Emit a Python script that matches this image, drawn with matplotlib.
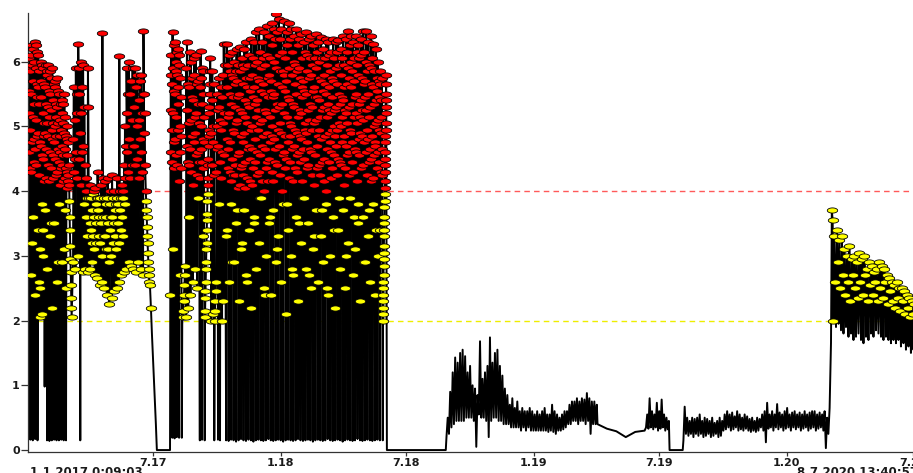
import numpy as np
import matplotlib
matplotlib.use("Agg")
import matplotlib.pyplot as plt
import matplotlib.dates as mdates
from datetime import datetime

# Readings, one list per stretch of the record.
# Each stretch runs from a start day to an end day (days after 1.1.2017),
# the readings in it are spaced evenly in time.

jan17 = [0.15, 3.2, 5.9, 6.05, 5.2, 4.6, 5.55, 4.35, 5.85, 4.95,
         0.16, 2.7, 6.1, 5.5, 4.3, 3.2, 5.95, 4.75, 6.25, 5.15,
         0.15, 3.6, 6.2, 5.7, 4.8, 6.0, 4.45, 5.35, 6.3, 4.65,
         0.17, 2.4, 6.25, 5.1, 5.9, 4.4, 5.65, 4.85, 6.15, 5.45,
         0.15, 3.4, 5.6, 6.1, 4.9, 2.6, 5.85, 4.25, 5.35, 4.75,
         2.05, 2.5, 3.1, 5.7, 6.0, 4.7, 5.45, 4.55, 5.95, 3.8,
         2.1, 3.0, 5.2, 5.9, 4.5, 3.4, 5.65, 4.15, 5.05, 4.85,
         0.98, 3.7, 5.6, 4.9, 5.95, 4.2, 5.35, 4.65, 5.85, 5.05,
         0.15, 2.8, 5.8, 5.3, 4.4, 5.95, 4.85, 5.55, 4.15, 5.15,
         0.14, 3.3, 5.5, 5.85, 4.6, 3.5, 5.25, 4.35, 5.75, 4.95,
         0.15, 2.2, 5.9, 4.8, 5.4, 4.2, 5.05, 4.55, 5.65, 4.75,
         0.16, 3.5, 5.7, 5.0, 4.5, 5.6, 4.25, 5.35, 4.85, 5.15,
         0.15, 2.6, 5.3, 5.75, 4.3, 2.9, 5.05, 4.65, 5.55, 4.45,
         0.15, 3.8, 5.5, 4.6, 5.1, 4.1, 4.85, 5.35, 4.35, 4.95,
         0.16, 2.9, 5.2, 4.4, 5.4, 4.7, 4.15, 5.05, 4.55, 5.35,
         0.15, 3.1, 4.9, 5.5, 4.2, 3.7, 4.65, 5.15, 4.35, 4.85,
         0.15, 2.5, 5.0, 4.3, 4.8, 4.05, 4.55, 4.25, 4.75, 4.15]
feb17_drop = [4.4, 4.1, 3.85, 3.6, 3.4, 3.15, 2.95, 2.75, 2.55, 2.35, 2.2, 2.05]
spring17 = [2.9, 4.8, 5.6, 4.3, 5.1, 4.5, 2.8, 5.9, 4.6, 5.2, 4.2, 5.5,
            3.0, 6.27, 5.5, 4.5, 5.9, 4.9, 0.15, 6.0, 5.2, 4.1, 5.6, 4.6,
            2.75, 5.95, 4.7, 3.8, 5.3, 4.4, 2.8, 4.2, 3.6, 4.0, 3.3, 3.9,
            2.75, 5.9, 5.3, 3.9, 4.1, 3.5, 2.8, 4.1, 3.4, 3.9, 3.2, 3.7,
            2.9, 3.95, 3.3, 4.0, 3.6, 3.1, 2.7, 4.05, 3.5, 3.8, 3.2, 3.9,
            2.65, 4.3, 3.7, 3.9, 3.3, 3.6, 2.55, 3.9, 3.2, 4.1, 3.5, 3.0,
            2.6, 6.44, 4.2, 3.6, 3.9, 3.3, 2.5, 4.15, 3.3, 3.8, 3.1, 3.6,
            2.4, 3.9, 4.2, 3.1, 3.5, 2.9, 2.25, 3.8, 3.4, 4.0, 3.0, 3.6,
            2.35, 4.25, 3.6, 3.9, 3.2, 3.5, 2.45, 4.0, 3.3, 3.7, 3.1, 3.8,
            2.5, 3.9, 4.2, 3.5, 3.8, 3.2, 2.6, 6.08, 4.0, 3.7, 3.4, 3.9,
            2.7, 4.1, 3.6, 3.9, 3.3, 4.0, 2.75, 4.4, 3.8, 5.0, 4.2, 4.7,
            2.8, 5.9, 5.2, 4.6, 5.5, 4.3, 2.9, 6.0, 4.8, 5.5, 4.2, 5.7,
            2.85, 5.7, 5.1, 4.4, 5.9, 4.7, 2.8, 5.3, 4.7, 5.9, 4.4, 5.6,
            2.75, 5.6, 4.5, 5.0, 5.8, 4.2, 2.9, 5.1, 4.2, 5.4, 4.8, 5.7,
            2.8, 5.8, 4.6, 5.2, 4.3, 5.5, 2.7, 6.47, 5.5, 4.9, 5.2, 4.4]
jun17_drop = [4.0, 3.85, 3.7, 3.6, 3.45, 3.3, 3.2, 3.05, 2.9, 2.8, 2.7, 2.6]
jun17_fall = [2.55, 2.2, 1.8, 1.45, 1.1, 0.75, 0.4, 0.0]
offline17 = [0.0, 0.0]
aug17 = [0.0, 2.4, 4.6, 5.8, 6.1, 5.25, 4.45, 5.65, 4.95,
         0.19, 6.45, 5.9, 3.1, 5.2, 6.25, 4.75, 5.55, 4.35,
         0.18, 6.3, 5.5, 4.8, 6.0, 4.55, 5.85, 5.15, 6.15,
         0.2, 5.8, 4.4, 6.2, 5.6, 4.95, 5.35, 4.15, 5.95,
         0.19, 6.1, 5.0, 2.7, 4.6, 5.75, 4.35, 5.45, 4.85]
sep17_rise = [0.19, 1.95, 2.05, 2.15, 2.3, 2.4, 2.55, 2.7, 2.85]
sep17 = [2.05, 5.9, 4.7, 6.3, 5.25, 4.45, 5.65, 2.2, 4.4, 5.6, 3.6, 5.05, 6.15, 4.65,
         2.4, 6.0, 5.1, 4.3, 5.75, 4.85, 5.45, 2.6, 5.4, 4.1, 5.8, 4.75, 6.05, 5.15,
         2.8, 4.9, 6.1, 5.2, 4.55, 5.65, 4.25, 2.5, 5.7, 4.6, 3.9, 5.35, 4.45, 5.05]
oct17 = [0.15, 5.6, 4.2, 6.17, 5.0, 5.75, 4.65, 5.35, 4.45,
         0.16, 5.9, 3.3, 4.8, 5.5, 4.35, 5.85, 5.15, 4.75]
oct17_climb = [0.15, 2.05, 2.15, 2.35, 2.45, 2.6, 2.8, 2.9, 3.1, 3.2, 3.4, 3.55, 3.65, 3.85,
               3.95, 4.1, 4.2, 4.4, 4.5, 4.7, 4.85, 4.95, 5.2, 5.3, 5.5, 5.65, 5.85, 6.05]
nov17 = [4.9, 2.0, 5.4, 4.4, 5.85, 4.75, 2.1, 5.0, 5.65, 4.25, 0.15, 2.0, 2.15, 2.3,
         2.45, 2.6, 4.3, 5.0, 5.5, 4.65, 5.25, 0.16, 4.7, 5.3, 3.8, 5.75, 4.45, 0.15,
         5.1, 4.2, 5.6, 4.95, 5.45, 2.0, 4.6, 5.8, 5.05, 2.3, 6.27, 5.2, 4.55, 5.95]
winter18 = [0.15, 3.3, 6.27, 4.8, 5.6, 3.4, 5.15, 4.35, 5.95, 4.65,
            0.14, 2.6, 5.2, 6.1, 4.3, 5.5, 4.75, 5.85, 4.15, 5.35,
            0.16, 3.8, 5.8, 4.5, 6.15, 2.9, 5.45, 4.95, 5.75, 4.25,
            0.15, 2.9, 4.9, 6.0, 5.3, 4.4, 5.65, 4.25, 5.05, 5.85,
            0.13, 3.5, 6.2, 5.1, 3.7, 5.7, 4.55, 5.45, 4.05, 5.95,
            0.15, 2.3, 5.5, 4.6, 6.22, 4.1, 5.25, 5.85, 4.85, 4.35,
            0.17, 3.1, 4.4, 6.05, 5.2, 3.2, 5.65, 4.75, 5.95, 4.25,
            0.15, 3.7, 5.9, 4.9, 6.2, 5.4, 4.45, 5.15, 4.05, 5.75,
            0.14, 2.7, 6.3, 5.6, 4.2, 2.6, 5.05, 5.95, 4.65, 5.35,
            0.16, 3.4, 4.7, 5.3, 6.1, 4.5, 5.75, 4.15, 5.55, 4.95,
            0.15, 2.2, 6.35, 5.0, 4.1, 5.8, 4.65, 5.45, 6.05, 4.35,
            0.13, 3.6, 5.6, 6.3, 3.5, 4.8, 5.35, 4.45, 5.95, 5.15,
            0.15, 2.8, 6.45, 5.4, 4.6, 6.0, 4.25, 5.75, 4.95, 5.25,
            0.16, 3.2, 4.3, 6.5, 5.7, 3.9, 5.05, 6.15, 4.55, 5.55,
            0.15, 3.9, 5.9, 4.7, 6.3, 5.1, 4.15, 5.65, 4.85, 6.05,
            0.14, 2.5, 6.45, 5.5, 4.0, 2.4, 5.25, 4.65, 5.95, 4.35,
            0.15, 3.0, 5.2, 6.55, 4.9, 6.1, 4.45, 5.75, 4.15, 5.45,
            0.17, 3.5, 6.4, 4.5, 5.8, 3.6, 5.15, 6.05, 4.75, 5.55,
            0.15, 2.4, 5.7, 6.6, 5.0, 4.3, 6.25, 4.85, 5.45, 4.15,
            0.14, 3.7, 4.8, 6.0, 6.5, 5.5, 4.45, 5.25, 6.35, 4.65,
            0.15, 2.9, 6.73, 5.9, 4.4, 3.1, 5.35, 6.45, 4.95, 5.65,
            0.16, 3.3, 5.3, 6.65, 6.1, 4.7, 5.85, 4.25, 5.05, 6.35,
            0.15, 2.6, 6.5, 4.9, 5.6, 4.0, 6.15, 5.35, 4.55, 5.85,
            0.13, 3.8, 5.8, 6.62, 4.6, 5.2, 4.35, 6.05, 5.55, 4.85,
            0.15, 2.1, 4.5, 5.7, 6.45, 3.8, 5.15, 6.25, 4.75, 5.45,
            0.16, 3.4, 6.6, 5.4, 4.2, 5.9, 4.85, 6.35, 5.05, 4.45,
            0.15, 3.0, 5.0, 6.5, 5.8, 2.8, 4.65, 6.15, 5.35, 4.15,
            0.14, 2.7, 6.4, 4.7, 5.3, 6.0, 4.35, 5.65, 4.95, 5.95,
            0.15, 3.6, 5.5, 6.5, 4.3, 4.9, 5.85, 4.55, 6.25, 5.15,
            0.17, 2.3, 4.6, 5.9, 6.35, 3.5, 5.25, 4.45, 5.75, 4.85,
            0.15, 3.2, 6.43, 5.2, 4.8, 5.6, 4.15, 6.05, 5.45, 4.65,
            0.14, 3.9, 5.7, 6.3, 3.9, 4.5, 5.55, 4.95, 6.15, 5.05,
            0.15, 2.8, 6.45, 4.9, 5.5, 6.1, 4.35, 5.85, 4.75, 5.25,
            0.16, 3.5, 4.4, 6.35, 5.1, 2.7, 5.75, 4.65, 6.05, 5.35,
            0.15, 2.5, 5.8, 4.6, 6.4, 5.3, 4.25, 5.95, 4.95, 5.55,
            0.13, 3.1, 6.25, 5.6, 4.1, 3.3, 5.05, 6.05, 4.55, 5.45,
            0.15, 3.7, 5.1, 6.42, 5.9, 4.7, 5.45, 4.35, 6.15, 4.85,
            0.16, 2.6, 6.3, 4.4, 5.4, 6.0, 4.95, 5.75, 4.25, 5.15,
            0.15, 3.3, 4.8, 6.38, 5.7, 3.7, 5.25, 4.45, 6.05, 5.55,
            0.14, 2.9, 6.2, 5.3, 4.5, 5.8, 4.15, 5.65, 4.85, 6.05,
            0.15, 3.8, 5.5, 6.35, 4.0, 2.5, 5.15, 5.95, 4.65, 5.35,
            0.17, 2.4, 6.3, 4.9, 5.6, 6.1, 4.45, 5.25, 4.75, 5.85,
            0.15, 3.0, 4.6, 6.15, 5.2, 4.2, 5.75, 4.95, 5.45, 4.35,
            0.14, 3.6, 6.35, 5.7, 3.4, 5.0, 4.55, 6.05, 5.25, 4.85,
            0.15, 2.2, 5.3, 6.3, 4.7, 5.9, 4.25, 5.65, 4.95, 6.15,
            0.16, 3.4, 6.33, 4.5, 5.5, 3.9, 5.05, 5.95, 4.45, 5.35,
            0.15, 2.8, 5.0, 6.2, 5.8, 4.4, 5.45, 4.75, 6.05, 5.15,
            0.13, 3.7, 6.4, 5.4, 4.1, 5.6, 4.85, 5.95, 4.35, 5.25,
            0.15, 2.5, 4.7, 6.35, 5.2, 3.0, 5.65, 4.55, 6.15, 5.05,
            0.16, 3.2, 6.47, 5.9, 4.6, 5.3, 4.25, 5.75, 4.95, 6.25,
            0.15, 3.9, 5.6, 6.4, 4.9, 6.0, 4.45, 5.35, 4.75, 5.85,
            0.14, 2.7, 6.3, 4.3, 5.7, 3.6, 5.15, 6.05, 4.65, 5.45,
            0.15, 3.1, 5.2, 6.4, 4.6, 5.5, 4.15, 5.95, 5.05, 6.15,
            0.17, 3.5, 6.25, 5.8, 3.8, 4.8, 5.35, 4.55, 6.05, 5.15,
            0.15, 2.3, 4.9, 6.35, 5.4, 6.1, 4.35, 5.75, 4.85, 5.25,
            0.14, 3.6, 6.47, 5.1, 4.4, 2.9, 5.65, 6.15, 4.75, 5.45,
            0.15, 2.9, 5.7, 6.47, 6.0, 4.6, 5.25, 4.25, 5.85, 4.95,
            0.16, 3.3, 6.3, 4.8, 5.5, 3.7, 4.45, 5.95, 5.15, 4.65,
            0.15, 2.6, 5.3, 6.4, 4.5, 5.9, 4.15, 5.65, 4.85, 6.05,
            0.14, 3.8, 6.27, 5.6, 4.2, 5.0, 5.85, 4.55, 5.35, 4.75,
            0.15, 2.4, 4.7, 6.2, 5.4, 3.4, 5.05, 5.75, 4.35, 5.55,
            0.16, 3.0, 6.0, 5.1, 4.6, 5.7, 4.45, 5.45, 4.95, 5.65,
            0.15, 3.4, 5.86, 4.9, 5.4, 4.3, 5.15, 4.65, 5.75, 4.25]
jun18_climb = [0.15, 2.0, 2.1, 2.2, 2.3, 2.4, 2.5, 2.6, 2.7, 2.85, 2.95, 3.05, 3.15, 3.3,
               3.4, 3.5, 3.6, 3.75, 3.85, 3.95, 4.05, 4.15, 4.3, 4.4, 4.5, 4.6, 4.75,
               4.85, 4.95, 5.05, 5.2, 5.3, 5.4, 5.5, 5.65, 5.8]
offline18 = [0.0, 0.0]
autumn18 = [0.2, 0.5, 0.25, 0.9, 0.35, 1.2, 0.4, 1.43, 0.45, 1.35, 0.45, 1.5,
            0.45, 1.55, 0.45, 1.45, 0.5, 1.2, 0.5, 1.3, 0.5, 1.0, 0.45, 0.95,
            0.05, 0.85, 0.55, 1.68, 0.5, 1.1, 0.5, 1.2, 0.45, 1.3, 0.2, 1.74,
            0.45, 1.35, 0.5, 1.5, 0.5, 1.55, 0.45, 1.3, 0.45, 1.15, 0.4, 0.95,
            0.4, 0.85, 0.4, 0.7, 0.35, 0.8, 0.35, 0.65, 0.35, 0.75, 0.35, 0.6,
            0.3, 0.65, 0.35, 0.6, 0.3, 0.6, 0.35, 0.65, 0.3, 0.6, 0.3, 0.55,
            0.3, 0.6, 0.3, 0.55, 0.3, 0.6, 0.3, 0.65, 0.3, 0.55, 0.28, 0.55,
            0.3, 0.7, 0.28, 0.6, 0.25, 0.55, 0.3, 0.5, 0.3, 0.55, 0.32, 0.6,
            0.35, 0.6, 0.4, 0.7, 0.4, 0.75, 0.45, 0.75, 0.45, 0.8, 0.4, 0.75,
            0.45, 0.8, 0.45, 0.78, 0.4, 0.88, 0.45, 0.8, 0.25, 0.75, 0.4, 0.75,
            0.4, 0.7]
spring19 = [0.4, 0.33, 0.29, 0.2, 0.28, 0.3]
summer19 = [0.35, 0.55, 0.33, 0.8, 0.35, 0.6, 0.32, 0.55, 0.35, 0.73,
            0.3, 0.6, 0.33, 0.78, 0.35, 0.55, 0.3, 0.5, 0.32, 0.45]
offline19 = [0.0, 0.0]
autumn19 = [0.15, 0.67, 0.25, 0.5, 0.22, 0.45, 0.25, 0.5, 0.2, 0.48, 0.25, 0.5,
            0.22, 0.55, 0.25, 0.45, 0.2, 0.5, 0.22, 0.48, 0.25, 0.45, 0.2, 0.5,
            0.22, 0.42, 0.25, 0.45, 0.2, 0.5, 0.22, 0.45, 0.3, 0.55, 0.32, 0.6,
            0.35, 0.55, 0.3, 0.58, 0.32, 0.52, 0.35, 0.6, 0.3, 0.55, 0.32, 0.5,
            0.3, 0.55, 0.33, 0.52, 0.3, 0.48, 0.28, 0.5, 0.3, 0.45, 0.28, 0.5,
            0.3, 0.48, 0.35, 0.55, 0.3, 0.6, 0.12, 0.73, 0.33, 0.55, 0.35, 0.6,
            0.3, 0.55, 0.35, 0.71, 0.32, 0.58, 0.35, 0.55, 0.3, 0.6, 0.33, 0.65,
            0.35, 0.55, 0.3, 0.58, 0.35, 0.6, 0.32, 0.55, 0.35, 0.58, 0.3, 0.55,
            0.33, 0.6, 0.35, 0.55, 0.3, 0.58, 0.33, 0.6, 0.35, 0.6, 0.3, 0.55,
            0.33, 0.58, 0.35, 0.55, 0.3, 0.6, 0.03, 0.5, 0.25, 0.65]
spring20 = [1.66, 3.7, 3.55, 2.0, 3.3, 2.6, 1.9, 3.4, 2.9, 1.95, 3.25, 2.5,
            1.85, 3.3, 2.7, 1.8, 3.1, 2.4, 1.9, 3.0, 2.6, 1.75, 3.15, 2.3,
            1.8, 2.95, 2.7, 1.7, 3.0, 2.5, 1.75, 2.9, 2.35, 1.8, 3.05, 2.6,
            1.7, 2.95, 2.4, 1.65, 3.0, 2.7, 1.75, 2.8, 2.3, 1.7, 2.9, 2.55,
            1.8, 2.85, 2.4, 1.75, 2.75, 2.6, 1.85, 2.8, 2.3, 1.8, 2.9, 2.5,
            1.75, 2.85, 2.35, 1.7, 2.8, 2.6, 1.75, 2.7, 2.25, 1.7, 2.65, 2.45,
            1.65, 2.6, 2.3, 1.7, 2.55, 2.2, 1.65, 2.6, 2.35, 1.7, 2.5, 2.15,
            1.6, 2.5, 2.3, 1.65, 2.45, 2.1, 1.55, 2.4, 2.2, 1.6, 2.35, 2.05,
            1.5, 2.3, 2.1, 1.55, 2.25, 1.95, 1.5, 2.2, 2.0]

# (first day, last day, readings)
stretches = [
    (0, 58, jan17), (59, 63, feb17_drop), (65, 169, spring17),
    (170, 175, jun17_drop), (176, 186, jun17_fall), (187, 204, offline17),
    (205, 221, aug17), (222, 227, sep17_rise), (228, 247, sep17),
    (248, 254, oct17), (255, 263, oct17_climb), (264, 284, nov17),
    (286, 511, winter18), (512, 517, jun18_climb), (518, 603, offline18),
    (604, 821, autumn18), (822, 890, spring19), (892, 925, summer19),
    (926, 945, offline19), (946, 1157, autumn19), (1159, 1284, spring20),
]

red_limit = 4.0
yellow_limit = 2.0
tick_dates = ["2017-07-01", "2018-01-01", "2018-07-01", "2019-01-01",
              "2019-07-01", "2020-01-01", "2020-07-01"]
tick_labels = ["7.17", "1.18", "7.18", "1.19", "7.19", "1.20", "7.20"]
start_label = "1.1.2017 0:09:03"
end_label = "8.7.2020 13:40:57"

t0 = mdates.date2num(datetime(2017, 1, 1))
xs, ys = [], []
for d0, d1, vals in stretches:
    xs.extend(t0 + np.linspace(d0, d1, len(vals)))
    ys.extend(vals)
xs = np.array(xs)
ys = np.array(ys)

# flat oval marker, as in the original plot
theta = np.linspace(0, 2 * np.pi, 30)
oval = np.column_stack([np.cos(theta), 0.5 * np.sin(theta)])

fig = plt.figure(figsize=(9.13, 4.73), dpi=100)
ax = fig.add_axes([28 / 913, 21 / 473, 890 / 913, 439 / 473])

ax.axhline(red_limit, color="#ff5a5a", lw=1, ls=(0, (4, 3)), zorder=1)
ax.axhline(yellow_limit, color="#eeee00", lw=1, ls=(0, (4, 3)), zorder=1)

ax.plot(xs, ys, color="black", lw=1.4, zorder=2)

mid = (ys >= yellow_limit) & (ys < red_limit)
high = ys >= red_limit
ax.plot(xs[mid], ys[mid], ls="none", marker=oval, ms=7.5, mfc="#ffff00",
        mec="black", mew=0.6, zorder=3)
ax.plot(xs[high], ys[high], ls="none", marker=oval, ms=7.5, mfc="#ff0000",
        mec="black", mew=0.6, zorder=3)

ax.set_xlim(mdates.date2num(datetime(2017, 1, 1, 0, 9, 3)),
            mdates.date2num(datetime(2020, 7, 8, 13, 40, 57)))
ax.set_ylim(-0.03, 6.75)

ax.spines["top"].set_visible(False)
ax.spines["right"].set_visible(False)
for s in ["left", "bottom"]:
    ax.spines[s].set_color("#333333")
    ax.spines[s].set_linewidth(0.9)

ax.set_xticks(mdates.datestr2num(tick_dates))
ax.set_xticklabels(tick_labels)
ax.set_yticks(range(0, 7))
ax.set_yticklabels([str(v) for v in range(0, 7)])
ax.tick_params(axis="x", length=3, width=0.9, pad=1, colors="#333333",
               labelsize=8, labelcolor="#1a1a1a")
ax.tick_params(axis="y", length=5, width=0.9, pad=1, colors="#333333",
               labelsize=8, labelcolor="#1a1a1a")
for lab in ax.get_xticklabels() + ax.get_yticklabels():
    lab.set_fontweight("bold")

fig.text(30 / 913, 1 - 466 / 473, start_label, ha="left", va="top",
         fontsize=8.5, fontweight="bold", color="#1a1a1a")
fig.text(918 / 913, 1 - 466 / 473, end_label, ha="right", va="top",
         fontsize=8.5, fontweight="bold", color="#1a1a1a")

fig.savefig("out.png", dpi=100)
